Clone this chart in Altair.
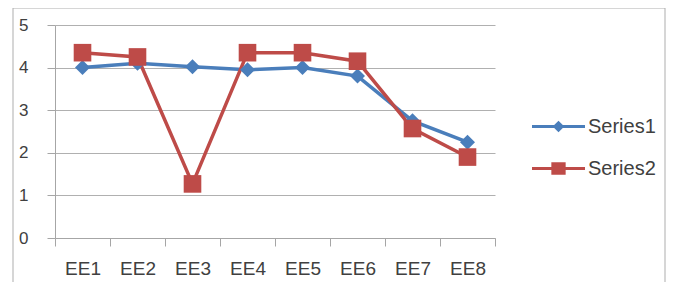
import altair as alt
import pandas as pd

categories = ["EE1", "EE2", "EE3", "EE4", "EE5", "EE6", "EE7", "EE8"]
series1 = [4.0, 4.1, 4.02, 3.95, 4.0, 3.8, 2.75, 2.25]
series2 = [4.35, 4.25, 1.27, 4.35, 4.35, 4.15, 2.57, 1.9]
series_names = ["Series1", "Series2"]
colors = ["#4A7EBB", "#BE4B48"]

rows = []
for c, a, b in zip(categories, series1, series2):
    rows.append({"cat": c, "series": "Series1", "value": a})
    rows.append({"cat": c, "series": "Series2", "value": b})
df = pd.DataFrame(rows)

xenc = alt.X("cat:N", sort=categories, title=None,
             scale=alt.Scale(paddingInner=0, paddingOuter=0),
             axis=alt.Axis(labelAngle=0, tickBand="extent", tickSize=8, labelPadding=13,
                           labelFontSize=19, grid=False, domainColor="#A6A6A6",
                           tickColor="#A6A6A6", labelColor="#404040",
                           labelFont="Liberation Sans"))
yenc = alt.Y("value:Q", title=None,
             scale=alt.Scale(domain=[0, 5], nice=False),
             axis=alt.Axis(values=[0, 1, 2, 3, 4, 5], tickSize=8, labelPadding=19,
                           labelFontSize=17, grid=True, gridColor="#B0B0B0",
                           domainColor="#A6A6A6", tickColor="#A6A6A6",
                           labelColor="#404040", labelFont="Liberation Sans"))
# colour scale without explicit domain (data-driven, sorted Series1, Series2)
cscale = alt.Scale(range=colors)

base = alt.Chart(df)

lines = base.mark_line(strokeWidth=3.5).encode(
    x=xenc, y=yenc,
    color=alt.Color("series:N", scale=cscale, legend=None),
)
pts1 = base.transform_filter(alt.datum.series == "Series1").mark_point(
    filled=True, opacity=1, shape="diamond", size=225).encode(
    x=xenc, y=yenc, color=alt.Color("series:N", scale=cscale, legend=None))
pts2 = base.transform_filter(alt.datum.series == "Series2").mark_point(
    filled=True, opacity=1, shape="square", size=310).encode(
    x=xenc, y=yenc, color=alt.Color("series:N", scale=cscale, legend=None))

path1 = "M-1,-0.06H1V0.06H-1Z M0,-0.22L0.22,0L0,0.22L-0.22,0Z"
path2 = "M-1,-0.06H1V0.06H-1Z M-0.27,-0.24H0.27V0.24H-0.27Z"

leg = alt.Legend(title=None, orient="none", legendX=477, legendY=75, padding=0,
                 symbolSize=2809, symbolStrokeWidth=0, rowPadding=5,
                 labelOffset=3, labelFontSize=20, labelColor="#404040",
                 labelFont="Liberation Sans")

legend_layer = alt.Chart(pd.DataFrame({"series": series_names})).mark_point(
    filled=True, clip=True, opacity=1).encode(
    x=alt.value(0), y=alt.value(-500),
    fill=alt.Fill("series:N", scale=alt.Scale(domain=series_names, range=colors), legend=leg),
    shape=alt.Shape("series:N", scale=alt.Scale(domain=series_names, range=[path1, path2]), legend=leg),
)

frame = alt.Chart(alt.Data(values=[{"a": 1}])).mark_rect(
    fill="transparent", stroke="#ADADAD", strokeWidth=1).encode(
    x=alt.value(-42), x2=alt.value(610), y=alt.value(-17), y2=alt.value(400))

chart = alt.layer(frame, lines, pts1, pts2, legend_layer).properties(
    width=440, height=213,
    autosize=alt.AutoSizeParams(type="none"),
    padding={"left": 47, "top": 17, "right": 178, "bottom": 44},
).configure_view(stroke=None)

chart.save("out.html", embed_options={"renderer": "svg", "actions": False})
